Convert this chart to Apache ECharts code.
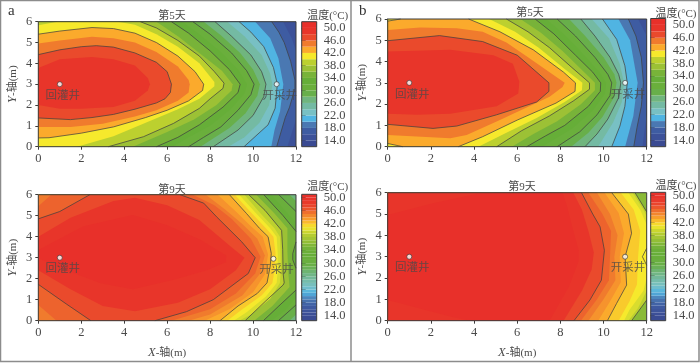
<!DOCTYPE html>
<html><head><meta charset="utf-8">
<style>html,body{margin:0;padding:0;background:#fff}#c{width:700px;height:363px}</style>
<script src="https://cdn.jsdelivr.net/npm/echarts@6/dist/echarts.min.js"></script>
</head><body><div id="c"></div>
<script>
// ---- data: iso-temperature contours, [level, [x(m), y(m)] ...]
const xTicks = [0,2,4,6,8,10,12];
const yTicks = [0,1,2,3,4,5,6];
const barTicks = [14,18,22,26,30,34,38,42,46,50];
const lineLevels = [18,22,26,30,34,38,42,46];
const wellNames = ['回灌井','开采井'];
const wellsA5 = [[1,3],[11.1,3]];
const wellsB5 = [[1,3],[11,3]];
const wellsA9 = [[1,3],[10.95,2.95]];
const wellsB9 = [[1,3],[11,3]];
const panelTitles = ['第5天','第5天','第9天','第9天'];
const tempStops = [13,15,17,19,21,23,25,27,29,31,33,35,37,39,41,43,45,47,49,51];
const tempColors = ['#3a4a92','#3c5199','#3e5ca2','#4a78b2','#50b4e2','#78c0c4','#74baa3','#70b57e','#68af4a','#6aaf3c','#66ae38','#78b339','#9cc135','#bcd02f','#f6e92c','#fbaa2c','#f07b2d','#ea4a2c','#e8352a','#e8302a'];
const coarseBarEdges = [12,14,16,18,20,22,24,26,28,30,32,34,36,38,40,42,44,46,48,50,52];
const fineBarEdges = [12.5,14,15,16,17,18,19,20,21,22,23,24,25,26,27,28,29,30,31,32,33,34,35,36,37,38,39,40,41,42,43,44,45,46,47,48,49,50,51];

const contoursA5 = [
 [14,[[12,6],[12,0]]],
 [16,[[11.4,6],[11.8,5.2],[12,4.6],[12,1.3],[11.6,0]]],
 [18,[[10.87,6],[11.2,5.5],[11.45,5],[11.75,4.1],[11.95,3.2],[11.95,2.8],[11.7,1.9],[11.5,1.4],[11.1,0]]],
 [20,[[10.1,6],[10.8,5.2],[11.18,4.25],[11.41,3],[11.26,1.7],[11,0.8],[10.85,0]]],
 [22,[[9.35,6],[9.9,5.5],[10.5,4.8],[10.95,3.8],[11.13,3],[11.03,1.85],[10.7,1.05],[9.58,0]]],
 [24,[[8.8,6],[9.6,5.3],[10.4,4.4],[10.8,3.5],[10.9,3],[10.75,2],[10.3,1.15],[9.6,0.45],[8.85,0]]],
 [26,[[8.23,6],[9,5.3],[9.9,4.4],[10.4,3.6],[10.6,3],[10.5,2.4],[10,1.5],[9.3,0.8],[8.15,0]]],
 [28,[[7.7,6],[8.5,5.35],[9.4,4.5],[10,3.7],[10.32,3],[10.2,2.45],[9.65,1.6],[8.9,0.9],[7.55,0]]],
 [30,[[7.2,6],[8,5.4],[9,4.5],[9.7,3.65],[10.05,3],[9.9,2.5],[9.3,1.75],[8.5,0.95],[7.7,0.45],[7,0]]],
 [32,[[6.7,6],[7.5,5.4],[8.5,4.55],[9.3,3.7],[9.72,3],[9.6,2.55],[8.95,1.8],[8,1],[7,0.45],[6.25,0]]],
 [34,[[6.2,6],[7,5.45],[8,4.6],[8.9,3.7],[9.4,3],[9.3,2.6],[8.6,1.9],[7.5,1.05],[6.5,0.45],[5.5,0]]],
 [36,[[5.5,6],[6.5,5.3],[7.5,4.5],[8.55,3.65],[9.05,3],[9,2.7],[8.3,2],[7.25,1.3],[6,0.7],[4.4,0]]],
 [38,[[4.75,6],[5.5,5.7],[6.5,5.1],[7.5,4.35],[8.2,3.6],[8.65,3.05],[8.6,2.8],[8,2.3],[7.5,1.84],[6.3,1.12],[4.9,0.48],[3.26,0]]],
 [40,[[0,5.83],[0.9,6],[3.7,6],[4.5,5.85],[5.5,5.4],[6.5,4.8],[7.5,4],[8.2,3.1],[8.2,2.9],[7.5,2.3],[6.5,1.8],[5,1.15],[3.5,0.5],[1.8,0],[0,0]]],
 [42,[[0,5.4],[1,5.55],[2.5,5.72],[3.5,5.67],[4.5,5.45],[5.5,5],[6.5,4.35],[7.3,3.6],[7.7,3],[7.65,2.7],[7,2.2],[6,1.75],[5,1.4],[3.5,0.95],[2,0.65],[0.5,0.43],[0,0.42]]],
 [44,[[0,4.95],[1,5.1],[2.5,5.28],[3.5,5.2],[4.5,5],[5.5,4.55],[6.5,3.85],[7,3.2],[7.05,3],[7,2.6],[6.5,2.2],[5.5,1.75],[4.5,1.45],[3,1.1],[1.5,0.95],[0,0.95]]],
 [46,[[0,4.42],[1,4.65],[2,4.8],[2.7,4.85],[3.5,4.78],[4.5,4.5],[5.5,4.05],[6,3.6],[6.2,3],[6.15,2.6],[5.9,2.3],[5.5,2.1],[4.5,1.8],[3.5,1.55],[2.5,1.4],[1.5,1.3],[0,1.38]]],
 [48,[[0,3.78],[1,4.2],[2.5,4.3],[3.5,4.2],[4.5,3.9],[5.1,3.3],[5.2,3],[5.1,2.7],[4.5,2.2],[3.5,1.9],[2,1.82],[1,1.82],[0,2]]]
];
const contoursB5 = [
 [14,[[12,6],[12,0]]],
 [16,[[11.6,6],[12,5.2],[12,1.5],[11.8,0]]],
 [18,[[11.15,6],[11.5,5.2],[11.75,4.2],[11.85,3],[11.75,1.9],[11.55,0.9],[11.4,0]]],
 [20,[[10.69,6],[11.23,5],[11.58,3],[11.38,1.44],[11,0]]],
 [22,[[9.95,6],[10.61,5.04],[10.99,3.8],[11.1,3],[10.99,1.9],[10.76,0.97],[10.38,0]]],
 [24,[[9.45,6],[10.25,5.1],[10.75,3.9],[10.95,3],[10.85,2.1],[10.45,1.15],[9.75,0]]],
 [26,[[8.95,6],[9.6,5.2],[10.3,4.2],[10.7,3.4],[10.8,3],[10.7,2.3],[10.2,1.3],[9.7,0.6],[9.14,0]]],
 [28,[[8.4,6],[9.15,5.2],[10,4.2],[10.5,3.4],[10.6,3],[10.5,2.35],[9.95,1.4],[9.3,0.65],[8.5,0]]],
 [30,[[7.85,6],[8.7,5.2],[9.6,4.2],[10.2,3.4],[10.38,3],[10.3,2.4],[9.7,1.5],[8.9,0.7],[7.85,0]]],
 [32,[[7.35,6],[8.2,5.25],[9.15,4.25],[9.85,3.45],[10.12,3],[10.07,2.5],[9.5,1.7],[8.55,0.85],[7.15,0]]],
 [34,[[6.83,6],[7.7,5.3],[8.7,4.3],[9.5,3.5],[9.87,3],[9.85,2.6],[9.3,1.9],[8.2,1],[7.3,0.5],[6.44,0]]],
 [36,[[6.15,6],[7.1,5.35],[8.1,4.5],[9,3.6],[9.6,3],[9.6,2.65],[8.95,2],[7.85,1.2],[6.75,0.6],[5.75,0]]],
 [38,[[5.5,6],[6.5,5.4],[7.5,4.65],[8.5,3.75],[9.35,3],[9.35,2.7],[8.6,2.15],[7.5,1.45],[6.2,0.75],[5.05,0]]],
 [40,[[4.7,6],[5.9,5.4],[7,4.65],[8.2,3.65],[9.02,3],[9,2.65],[8.2,2.1],[6.9,1.35],[5.5,0.65],[4.2,0]]],
 [42,[[0,5.9],[0.6,6],[3.75,6],[5.2,5.4],[6.75,4.55],[8.15,3.5],[8.7,3],[8.68,2.6],[7.8,2.05],[6,1.25],[4.4,0.47],[3.27,0],[0.7,0],[0,0.15]]],
 [44,[[0,5.48],[1.5,5.6],[3.2,5.56],[4.4,5.4],[5.5,4.9],[6.5,4.2],[7.5,3.5],[8.2,3],[8.1,2.8],[7.5,2.35],[5.2,1.25],[3.66,0.55],[2.9,0.4],[0,0.55]]],
 [46,[[0,4.98],[2.4,5.22],[4.4,4.94],[6,4.3],[7.47,3],[7.47,2.6],[6.9,2.1],[5.05,1.5],[3.2,0.97],[2.1,0.86],[0,1.05]]],
 [48,[[0,4.47],[2.9,4.55],[4.9,4.3],[5.8,3.9],[6.1,3.05],[6.05,2.5],[5.05,1.9],[2.9,1.55],[1.35,1.5],[0,1.55]]]
];
const contoursA9 = [
 [26,[[12,6],[12,0]]],
 [28,[[11.7,6],[12,5.7],[12,0.3],[11.7,0]]],
 [30,[[11.2,6],[12,5.2],[12,0.75],[11.18,0]]],
 [32,[[10.85,6],[11.7,5],[12,4.7],[12,1.1],[11.5,0.5],[10.85,0]]],
 [34,[[10.5,6],[11.4,5],[12,4.25],[12,3.75],[11.85,3.2],[11.85,2.9],[12,2.5],[12,1.46],[11.2,0.7],[10.48,0]]],
 [36,[[10.15,6],[11,5.1],[11.6,4.4],[11.6,3.3],[11.65,2.2],[11.7,1.6],[10.9,0.7],[10.05,0]]],
 [38,[[9.8,6],[10.56,5.25],[11.33,4.3],[11.38,3.4],[11.4,2.25],[11.45,1.8],[11.4,1.7],[10.6,0.95],[9.63,0]]],
 [39,[[9.6,6],[10.35,5.1],[11,4.4],[11.25,4],[11.28,3.2],[11.3,2.4],[11.25,1.8],[10.8,1.05],[9.9,0.3],[9.35,0]]],
 [40,[[9.35,6],[10.15,5.1],[10.8,4.4],[11.1,4],[11.15,3.2],[11.15,2.4],[11.1,1.8],[10.6,1.15],[9.7,0.4],[9.1,0]]],
 [41,[[9.15,6],[9.95,5.1],[10.6,4.4],[10.95,4],[11.05,3.2],[11,2.4],[10.9,1.8],[10.4,1.2],[9.5,0.55],[8.8,0]]],
 [42,[[8.9,6],[9.7,5.1],[10.3,4.4],[10.7,4],[10.85,3.2],[10.8,2.6],[10.65,1.8],[10.2,1.3],[9.3,0.7],[8.46,0]]],
 [43,[[8.35,6],[9.2,5.2],[9.9,4.5],[10.45,4],[10.7,3.15],[10.55,2.2],[10,1.35],[8.9,0.55],[7.75,0]]],
 [44,[[7.8,6],[8.7,5.3],[9.5,4.6],[10.2,3.9],[10.55,3.1],[10.3,2.2],[9.5,1.2],[8,0.3],[7,0]]],
 [45,[[0,5.45],[0.6,6],[7.2,6],[8.2,5.5],[9,4.85],[9.9,3.9],[10.35,3.05],[10.1,2.25],[9.2,1.3],[8,0.55],[6.2,0],[0.85,0],[0,0.75]]],
 [46,[[0,4.85],[1,5.2],[2.4,6],[6.6,6],[7.7,5.6],[8.3,4.95],[9.47,3.76],[10.1,3],[9.78,2.25],[8.15,1],[6.9,0.43],[5.43,0],[2.45,0],[1.3,0.8],[0,1.73]]],
 [48,[[0,4],[1.5,4.9],[3.5,5.7],[4.5,5.85],[6,5.5],[7.5,4.8],[9,3.5],[9.6,3],[9.2,2.4],[8,1.5],[6.5,0.85],[4.5,0.45],[3,0.7],[1.5,1.5],[0,2.4]]],
 [50,[[0,3.37],[2.1,4.5],[4.4,5.03],[6,4.55],[7.55,3.85],[8.75,3.1],[8.75,2.8],[7.85,2.4],[6.3,1.95],[4.4,1.5],[2.9,1.78],[1.3,2.4],[0,2.97]]]
];
const contoursB9 = [
 [35,[[12,6],[12,0]]],
 [38,[[11.46,6],[12,5.1],[12,3.4],[11.8,3],[12,2.6],[12,0.97],[11.3,0]]],
 [39,[[11.35,6],[11.85,5.2],[12,4.9],[12,1.4],[11.6,0.6],[11.15,0]]],
 [40,[[11.15,6],[11.7,5.2],[12,4.5],[12,2],[11.85,1.4],[11.2,0.5],[10.95,0]]],
 [41,[[10.8,6],[11.4,5.2],[11.7,4.2],[11.6,3],[11.55,1.7],[11.2,0.9],[10.7,0]]],
 [42,[[10.38,6],[11.15,5],[11.3,4.1],[11,3],[11.07,1.67],[10.6,0.8],[10.18,0]]],
 [43,[[10.05,6],[10.7,5.05],[10.95,4.1],[10.75,3],[10.8,1.8],[10.3,0.9],[9.75,0]]],
 [44,[[9.7,6],[10.3,5],[10.65,4],[10.5,3],[10.55,1.9],[10,1],[9.3,0]]],
 [45,[[9.3,6],[9.95,5],[10.35,4.2],[10.3,3],[10.25,1.9],[9.7,1],[8.95,0]]],
 [46,[[8.98,6],[9.5,5],[9.84,4.4],[10.04,3.3],[9.9,1.9],[9.37,0.97],[8.63,0]]],
 [48,[[8.6,6],[9,5.2],[9.3,4.2],[9.55,3.2],[9.45,2.4],[9,1.4],[8.15,0]]],
 [50,[[0,4.95],[2.1,5.5],[4.1,5.94],[5,6],[8.1,6],[8.3,5.4],[8.6,4.2],[8.85,3.3],[8.85,2.8],[8.4,1.6],[7.5,0],[3.8,0],[2.9,0.2],[0,0.97]]]
];

// ---- layout and styling
const FONT = '"Liberation Serif","Noto Sans CJK SC",serif';
const TEXT = '#4a4a4a', AXIS = '#3c3c3c';
const plotRects = [[38.3,21.7,257.7,125],[387.7,19,259,127.7],[38.3,194.7,257.7,126],[387.7,192.7,259,128]];
const barRects = [[301.7,21.7,15,125],[650.7,18.5,15,128.2],[301.7,194.3,15,126.4],[650.7,192.3,15,128.4]];
const barRanges = [[12,52],[12,52],[12.5,51],[12.5,51]];
const barEdgeSets = [coarseBarEdges,coarseBarEdges,fineBarEdges,fineBarEdges];
const contourSets = [contoursA5,contoursB5,contoursA9,contoursB9];
const wellSets = [wellsA5,wellsB5,wellsA9,wellsB9];
const titleSpots = [[167,11],[525,8.5],[167,185],[517,182.5]];
const unitSpots = [[322.7,11.5],[671,9],[322.7,182.5],[671,181]];
const hasXName = [false,false,true,true];

function hex(c){return [1,3,5].map(i=>parseInt(c.substr(i,2),16));}
function colorOf(t){
  if(t<=tempStops[0]) return tempColors[0];
  for(let i=1;i<tempStops.length;i++){
    if(t<=tempStops[i]){
      const f=(t-tempStops[i-1])/(tempStops[i]-tempStops[i-1]);
      const a=hex(tempColors[i-1]),b=hex(tempColors[i]);
      return 'rgb('+a.map((v,k)=>Math.round(v+(b[k]-v)*f)).join(',')+')';
    }
  }
  return tempColors[tempColors.length-1];
}
const onEdge=(p,q)=>(p[0]===q[0]&&(p[0]===0||p[0]===12))||(p[1]===q[1]&&(p[1]===0||p[1]===6));
function closed(pts){
  const f=pts[0],l=pts[pts.length-1];
  return (f[1]===6&&l[1]===0)?[...pts,[0,0],[0,6]]:pts;
}

const grid=[],xAxis=[],yAxis=[],series=[],title=[];
const labelBase={fontFamily:FONT,color:TEXT,fontSize:12.5};
const nameStyle={fontFamily:FONT,color:TEXT,fontSize:11,rich:{i:{fontFamily:FONT,fontStyle:'italic',fontSize:12.5,color:TEXT}}};
plotRects.forEach((r,i)=>{
  grid.push({left:r[0],top:r[1],width:r[2],height:r[3]});
  const axisLine={show:true,lineStyle:{color:AXIS,width:1}};
  const tick={show:true,length:3,lineStyle:{color:AXIS,width:1}};
  xAxis.push({type:'value',gridIndex:i,min:0,max:12,interval:xTicks[1]-xTicks[0],splitLine:{show:false},axisLine,axisTick:tick,
    axisLabel:Object.assign({margin:6},labelBase),
    name:hasXName[i]?'{i|X}-轴(m)':'',nameLocation:'middle',nameGap:26,nameTextStyle:nameStyle});
  yAxis.push({type:'value',gridIndex:i,min:0,max:6,interval:yTicks[1]-yTicks[0],splitLine:{show:false},axisLine,axisTick:tick,
    axisLabel:Object.assign({margin:6},labelBase),
    name:'{i|Y}-轴(m)',nameLocation:'middle',nameGap:19,nameTextStyle:nameStyle});
  const set=contourSets[i];
  series.push({type:'custom',xAxisIndex:i,yAxisIndex:i,z:2,silent:true,clip:false,
    data:set.map((_,k)=>[k]),
    renderItem:(p,api)=>{
      const c=set[p.dataIndex];
      const pts=(p.dataIndex===0?[[0,6],[12,6],[12,0],[0,0]]:closed(c[1])).map(q=>api.coord(q));
      return {type:'polygon',shape:{points:pts},style:{fill:colorOf(c[0]+1)}};
    }});
  const segs=[];
  set.forEach(c=>{
    if(!lineLevels.includes(c[0])) return;
    let run=[];
    for(let k=0;k<c[1].length;k++){
      if(k>0&&onEdge(c[1][k-1],c[1][k])){ if(run.length>1) segs.push(run); run=[]; }
      run.push(c[1][k]);
    }
    if(run.length>1) segs.push(run);
  });
  series.push({type:'custom',xAxisIndex:i,yAxisIndex:i,z:3,silent:true,clip:false,
    data:segs.map((_,k)=>[k]),
    renderItem:(p,api)=>({type:'polyline',shape:{points:segs[p.dataIndex].map(q=>api.coord(q))},
      style:{fill:null,stroke:'#3f3f3f',lineWidth:0.8,opacity:0.9}})});
  series.push({type:'custom',xAxisIndex:i,yAxisIndex:i,z:4,silent:true,clip:false,data:[[0]],
    renderItem:(p,api)=>{
      const a=api.coord([0,6]),b=api.coord([12,0]);
      return {type:'rect',shape:{x:a[0],y:a[1],width:b[0]-a[0],height:b[1]-a[1]},style:{fill:null,stroke:AXIS,lineWidth:1}};
    }});
  series.push({type:'scatter',xAxisIndex:i,yAxisIndex:i,z:5,silent:true,symbolSize:5,
    itemStyle:{color:'#fff',borderColor:'#333',borderWidth:0.8},
    data:wellSets[i].map((v,k)=>({name:wellNames[k],value:v})),
    label:{show:true,position:'bottom',distance:3,offset:[3,0],formatter:'{b}',fontFamily:FONT,fontSize:11.5,color:'#4a4a4a'}});
  title.push({text:panelTitles[i],left:titleSpots[i][0],top:titleSpots[i][1],textAlign:'center',textVerticalAlign:'middle',
    textStyle:{fontFamily:FONT,fontSize:11,fontWeight:'normal',color:TEXT}});
  title.push({text:'温度(°C)',left:unitSpots[i][0],top:unitSpots[i][1],textAlign:'center',textVerticalAlign:'middle',
    textStyle:{fontFamily:FONT,fontSize:11,fontWeight:'normal',color:TEXT}});
});
barRects.forEach((r,i)=>{
  const g=grid.length;
  grid.push({left:r[0],top:r[1],width:r[2],height:r[3]});
  xAxis.push({type:'value',gridIndex:g,min:0,max:1,show:false});
  yAxis.push({type:'value',gridIndex:g,position:'right',min:barRanges[i][0],max:barRanges[i][1],splitLine:{show:false},
    axisLine:{show:false},
    axisTick:{show:true,length:4,customValues:barTicks,lineStyle:{color:AXIS,width:1}},
    axisLabel:Object.assign({margin:7,customValues:barTicks,formatter:v=>v.toFixed(1)},labelBase)});
  const edges=barEdgeSets[i];
  series.push({type:'custom',xAxisIndex:g,yAxisIndex:g,z:2,silent:true,clip:false,
    data:edges.slice(0,-1).map((e,k)=>[0,e,edges[k+1]]),encode:{x:0,y:[1,2]},
    renderItem:(p,api)=>{
      const lo=api.value(1),hi=api.value(2);
      const a=api.coord([0,hi]),b=api.coord([1,lo]);
      return {type:'rect',shape:{x:a[0],y:a[1],width:b[0]-a[0],height:b[1]-a[1]},style:{fill:colorOf((lo+hi)/2)}};
    }});
  series.push({type:'custom',xAxisIndex:g,yAxisIndex:g,z:3,silent:true,clip:false,data:[[0]],
    renderItem:(p,api)=>{
      const a=api.coord([0,barRanges[i][1]]),b=api.coord([1,barRanges[i][0]]);
      return {type:'rect',shape:{x:a[0],y:a[1],width:b[0]-a[0],height:b[1]-a[1]},style:{fill:null,stroke:AXIS,lineWidth:1}};
    }});
});
const graphic=[
 {type:'rect',silent:true,shape:{x:0.5,y:0.5,width:698.5,height:361},style:{fill:null,stroke:'#8c8c8c',lineWidth:1.5}},
 {type:'line',silent:true,shape:{x1:351,y1:0,x2:351,y2:362},style:{stroke:'#8c8c8c',lineWidth:1.5}},
 {type:'text',silent:true,x:8,y:4,style:{text:'a',font:'15px "Liberation Serif"',fill:'#333'}},
 {type:'text',silent:true,x:359,y:4,style:{text:'b',font:'15px "Liberation Serif"',fill:'#333'}}
];
const chart=echarts.init(document.getElementById('c'),null,{renderer:'canvas'});
chart.setOption({animation:false,backgroundColor:'#fff',title,grid,xAxis,yAxis,series,graphic});
</script></body></html>
